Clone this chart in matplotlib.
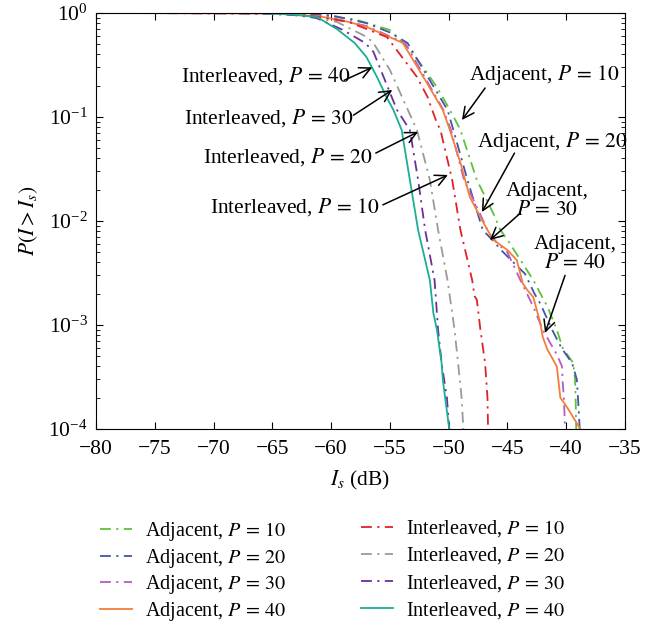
import matplotlib
matplotlib.use("Agg")
import matplotlib.pyplot as plt


# Curves: interference level (dB) and P(I > Is).
adj10_x = [-80, -66, -61, -58, -55.0, -53.3, -52.2, -51.0, -49.9, -49.3, -49.0,
           -47.6, -46.2, -45.6, -45.0, -43.7, -42.8, -41.6, -40.8, -40.3, -39.4,
           -39.25, -39.2, -39.15]
adj10_p = [1, 0.995, 0.96, 0.87, 0.687, 0.441, 0.303, 0.194, 0.117, 0.0875, 0.075,
           0.0248, 0.0118, 0.0082, 0.0066, 0.0039, 0.0027, 0.0015, 0.0009, 0.0006,
           0.00043, 0.0003, 0.0002, 0.0001]

adj20_x = [-80, -65, -60, -57, -55, -53.5, -50.1, -49.6, -48.4, -47.6, -47.1,
           -46.3, -45.5, -44.4, -43.5, -42.7, -42.2, -41.2, -40.4, -39.5, -39.1,
           -39.0, -38.85]
adj20_p = [1, 0.995, 0.95, 0.80, 0.65, 0.515, 0.117, 0.075, 0.0248, 0.0125, 0.0082,
           0.0066, 0.0052, 0.0039, 0.0031, 0.0020, 0.0016, 0.0009, 0.0006, 0.00043,
           0.0003, 0.0002, 0.0001]

adj30_x = [-80, -65, -60.5, -57, -53.7, -50.5, -49.8, -48.7, -47.3, -46.6, -45.8,
           -45.0, -43.9, -42.8, -42.0, -40.8, -40.36, -40.3, -40.2, -40.1]
adj30_p = [1, 0.99, 0.93, 0.75, 0.515, 0.12, 0.075, 0.025, 0.0115, 0.0077, 0.0060,
           0.0050, 0.0027, 0.0015, 0.0009, 0.00052, 0.0004, 0.00028, 0.0002, 0.0001]

adj40_x = [-80, -65, -61, -58.5, -56.95, -53.9, -52.0, -50.5, -49.9, -49.0, -48.2,
           -47.5, -46.7, -46.2, -45.0, -44.2, -43.7, -43.3, -42.8, -42.2, -42.0,
           -41.6, -40.8, -40.5, -39.9, -38.8]
adj40_p = [1, 0.99, 0.93, 0.82, 0.733, 0.515, 0.227, 0.117, 0.075, 0.0363, 0.0170,
           0.0120, 0.0082, 0.0066, 0.00526, 0.0042, 0.00252, 0.00216, 0.00185,
           0.00104, 0.00077, 0.00058, 0.0004, 0.0002, 0.00016, 0.0001]

int10_x = [-80, -67, -62, -58.5, -55.25, -52.7, -51.8, -51.0, -50.7, -49.7, -49.0,
           -48.0, -47.8, -47.6, -47.3, -46.9, -46.7, -46.65]
int10_p = [1, 0.995, 0.95, 0.82, 0.587, 0.243, 0.156, 0.0875, 0.075, 0.0248, 0.0082,
           0.0027, 0.0019, 0.00174, 0.0009, 0.00043, 0.0002, 0.0001]

int20_x = [-80, -67, -62.5, -59.5, -56.95, -56.4, -55.0, -52.7, -51.6, -50.9, -50.1,
           -49.5, -49.2, -48.9, -48.75]
int20_p = [1, 0.995, 0.95, 0.82, 0.587, 0.515, 0.283, 0.075, 0.0248, 0.0082, 0.0027,
           0.0009, 0.00043, 0.0002, 0.0001]

int30_x = [-80, -68, -64, -61.3, -59.0, -57.1, -56.4, -54.4, -53.3, -52.6, -52.0,
           -51.2, -50.9, -50.6, -50.15, -49.95]
int30_p = [1, 0.995, 0.98, 0.9, 0.687, 0.515, 0.423, 0.117, 0.075, 0.0248, 0.0082,
           0.0027, 0.0009, 0.00043, 0.0002, 0.0001]

int40_x = [-80, -70, -66, -63.5, -61.2, -59.5, -58.0, -57.0, -56.1, -55.3, -54.7,
           -54.0, -53.3, -52.6, -51.6, -51.3, -51.0, -50.6, -50.5, -50.3, -49.95]
int40_p = [1, 1, 0.995, 0.97, 0.915, 0.7, 0.515, 0.378, 0.243, 0.156, 0.117, 0.075,
           0.0248, 0.0082, 0.0027, 0.0013, 0.0009, 0.00043, 0.0003, 0.0002, 0.0001]

x_ticks = [-80, -75, -70, -65, -60, -55, -50, -45, -40, -35]

plt.rcParams["font.family"] = ["Liberation Serif", "DejaVu Serif"]
plt.rcParams["mathtext.fontset"] = "stix"
plt.rcParams["font.size"] = 15.5

fig = plt.figure(figsize=(6.59, 6.25), dpi=100)
ax = fig.add_axes([0.1457, 0.3136, 0.8027, 0.6656])

dd = (0, (6, 3, 1.2, 3))
series = [
    (adj10_x, adj10_p, "#5dc13a", dd, r"Adjacent, $P\,=\,10$"),
    (adj20_x, adj20_p, "#4256a6", dd, r"Adjacent, $P\,=\,20$"),
    (adj30_x, adj30_p, "#b65cc4", dd, r"Adjacent, $P\,=\,30$"),
    (adj40_x, adj40_p, "#f57d3c", "-", r"Adjacent, $P\,=\,40$"),
    (int10_x, int10_p, "#e0202a", dd, r"Interleaved, $P\,=\,10$"),
    (int20_x, int20_p, "#9a9a9a", dd, r"Interleaved, $P\,=\,20$"),
    (int30_x, int30_p, "#6b2e9e", dd, r"Interleaved, $P\,=\,30$"),
    (int40_x, int40_p, "#1aae96", "-", r"Interleaved, $P\,=\,40$"),
]
lines = []
for xs, ps, col, ls, lab in series:
    ln, = ax.plot(xs, ps, color=col, linestyle=ls, linewidth=1.3, label=lab)
    lines.append(ln)

ax.set_yscale("log")
ax.set_xlim(-80, -35)
ax.set_ylim(1e-4, 1)
ax.set_xticks(x_ticks)
ax.tick_params(which="both", direction="in", top=True, right=True)
ax.tick_params(which="major", length=5)
ax.tick_params(which="minor", length=3)
ax.tick_params(axis="x", pad=8)
ax.tick_params(axis="y", pad=6)
ax.set_xlabel(r"$I_s$ (dB)", labelpad=7)
ax.set_ylabel(r"$P(I > I_s)$", labelpad=6)

# Arrow labels: (text, text position, alignment, arrow tail, arrow head).
notes = [
    (r"Interleaved, $P\,=\,40$", (-58.3, 0.248), "right", (-58.9, 0.225), (-56.5, 0.30)),
    (r"Interleaved, $P\,=\,30$", (-58.1, 0.098), "right", (-58.1, 0.104), (-54.8, 0.182)),
    (r"Interleaved, $P\,=\,20$", (-56.5, 0.0412), "right", (-56.2, 0.045), (-52.6, 0.072)),
    (r"Interleaved, $P\,=\,10$", (-55.9, 0.0136), "right", (-55.6, 0.0143), (-50.06, 0.0277)),
    (r"Adjacent, $P\,=\,10$", (-41.9, 0.253), "center", (-46.9, 0.19), (-48.87, 0.0936)),
    (r"Adjacent, $P\,=\,20$", (-41.2, 0.0575), "center", (-44.4, 0.045), (-47.17, 0.0122)),
    ("Adjacent,\n" + r"$P\,=\,30$", (-41.6, 0.0156), "center", (-43.9, 0.0119), (-46.49, 0.00656)),
    ("Adjacent,\n" + r"$P\,=\,40$", (-39.25, 0.0048), "center", (-40.1, 0.0030), (-41.8, 0.00084)),
]
for txt, pos, ha, tail, head in notes:
    ax.text(pos[0], pos[1], txt, ha=ha, va="center", linespacing=1.0)
    ax.annotate("", xy=head, xytext=tail,
                arrowprops=dict(arrowstyle="->", color="black", lw=1.1,
                                shrinkA=0, shrinkB=0, mutation_scale=20))

# Two legend columns placed separately so their rows line up.
leg_kw = dict(loc="upper left", frameon=False, fontsize=14.5, handlelength=1.6,
              handletextpad=0.65, borderaxespad=0, borderpad=0)
leg1 = fig.legend(handles=lines[:4], bbox_to_anchor=(0.152, 0.1675),
                  labelspacing=0.17, **leg_kw)
leg2 = fig.legend(handles=lines[4:], bbox_to_anchor=(0.548, 0.1705),
                  labelspacing=0.31, **leg_kw)

fig.savefig("out.png", dpi=100)
plt.close(fig)
